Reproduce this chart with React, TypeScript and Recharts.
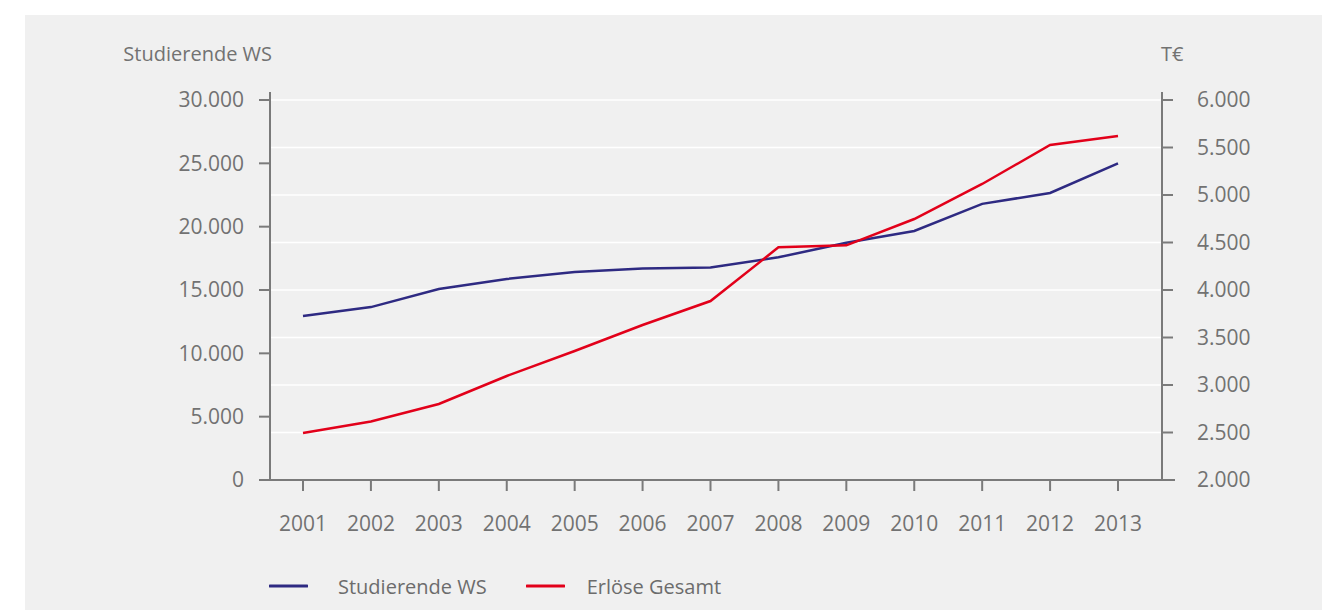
import React from 'react';
import * as R from 'recharts';
import { LineChart, Line, XAxis, YAxis, CartesianGrid, Legend } from 'recharts';

const years = ['2001', '2002', '2003', '2004', '2005', '2006', '2007', '2008', '2009', '2010', '2011', '2012', '2013'];
const studierende = [12950, 13650, 15080, 15870, 16420, 16700, 16780, 17580, 18730, 19660, 21800, 22660, 25000];
const erloese = [2495, 2615, 2800, 3095, 3358, 3632, 3884, 4449, 4470, 4747, 5116, 5526, 5621];
const leftTicks = [0, 5000, 10000, 15000, 20000, 25000, 30000];
const rightTicks = [2000, 2500, 3000, 3500, 4000, 4500, 5000, 5500, 6000];
const seriesNames = ['Studierende WS', 'Erlöse Gesamt'];
const leftTitle = 'Studierende WS';
const rightTitle = 'T€';

const data = years.map((y, i) => ({ year: y, studierende: studierende[i], erloese: erloese[i] }));

const FONT = '"Open Sans", sans-serif';
const TEXT = '#727272';
const AXIS = '#7a7a7a';
const BLUE = '#2e2a82';
const RED = '#e2001a';

const fmt = (v: number) => v.toLocaleString('de-DE');

const usePlotAreaHook: any = (R as any).usePlotArea;
const hasHook = typeof usePlotAreaHook === 'function';

function AxisLines() {
  const area = usePlotAreaHook();
  if (!area) return null;
  const { x, y, width, height } = area;
  return (
    <g>
      <line x1={x} y1={y - 8} x2={x} y2={y + height} stroke={AXIS} strokeWidth={2} />
      <line x1={x + width} y1={y - 8} x2={x + width} y2={y + height} stroke={AXIS} strokeWidth={2} />
      <line x1={x - 11} y1={y + height} x2={x + width + 13} y2={y + height} stroke={AXIS} strokeWidth={2} />
    </g>
  );
}

const legendItems = [
  { name: seriesNames[0], color: BLUE, gap: 30 },
  { name: seriesNames[1], color: RED, gap: 22 },
];

function LegendContent() {
  return (
    <div style={{ display: 'flex', alignItems: 'center', height: 30, fontFamily: FONT, fontSize: 20, color: '#6c6c6c' }}>
      {legendItems.map((it, i) => (
        <div key={it.name} style={{ display: 'flex', alignItems: 'center', marginRight: i === 0 ? 39 : 0 }}>
          <svg width={39} height={6} style={{ display: 'block' }}>
            <line x1={1} y1={3} x2={38} y2={3} stroke={it.color} strokeWidth={3} strokeLinecap="round" />
          </svg>
          <span style={{ marginLeft: it.gap, whiteSpace: 'nowrap' }}>{it.name}</span>
        </div>
      ))}
    </div>
  );
}

const LeftTitle = (props: any) => {
  const vb = props.viewBox;
  return (
    <text x={vb.x + vb.width + 2} y={vb.y - 39} textAnchor="end" fill={TEXT} fontFamily={FONT} fontSize={20}>
      {leftTitle}
    </text>
  );
};

const RightTitle = (props: any) => {
  const vb = props.viewBox;
  return (
    <text x={vb.x - 1} y={vb.y - 39} textAnchor="start" fill={TEXT} fontFamily={FONT} fontSize={20}>
      {rightTitle}
    </text>
  );
};

const tickStyle = { fill: TEXT, fontFamily: FONT, fontSize: 21 };
const tickLineStyle = { stroke: AXIS, strokeWidth: 2 };

export default function App() {
  return (
    <div style={{ position: 'absolute', left: 0, top: 0, width: 1322, height: 610, background: '#ffffff', overflow: 'hidden' }}>
      <div style={{ position: 'absolute', left: 25, top: 15, width: 1297, height: 595, background: '#f0f0f0' }}>
        <LineChart width={1297} height={595} data={data} margin={{ top: 85, right: 0, bottom: 0, left: 0 }}>
          <CartesianGrid horizontal vertical={false} yAxisId="right" stroke="#ffffff" strokeWidth={1.5} />
          <XAxis
            dataKey="year"
            height={130}
            padding={{ left: 33, right: 44 }}
            tick={tickStyle}
            tickSize={11}
            tickMargin={25}
            tickLine={tickLineStyle}
            axisLine={hasHook ? false : { stroke: AXIS, strokeWidth: 2 }}
            interval={0}
          />
          <YAxis
            yAxisId="left"
            orientation="left"
            width={245}
            domain={[0, 30000]}
            ticks={leftTicks}
            tickFormatter={fmt}
            tick={tickStyle}
            tickSize={11}
            tickMargin={15}
            tickLine={tickLineStyle}
            axisLine={hasHook ? false : { stroke: AXIS, strokeWidth: 2 }}
            allowDataOverflow
            label={<LeftTitle />}
          />
          <YAxis
            yAxisId="right"
            orientation="right"
            width={160}
            domain={[2000, 6000]}
            ticks={rightTicks}
            tickFormatter={fmt}
            tick={{ ...tickStyle, textAnchor: 'start' }}
            tickSize={11}
            tickMargin={24}
            tickLine={tickLineStyle}
            axisLine={hasHook ? false : { stroke: AXIS, strokeWidth: 2 }}
            allowDataOverflow
            label={<RightTitle />}
          />
          <Line yAxisId="left" type="linear" dataKey="studierende" name={seriesNames[0]} stroke={BLUE} strokeWidth={2.5} dot={false} activeDot={false} isAnimationActive={false} />
          <Line yAxisId="right" type="linear" dataKey="erloese" name={seriesNames[1]} stroke={RED} strokeWidth={2.5} dot={false} activeDot={false} isAnimationActive={false} />
          {hasHook ? <AxisLines /> : null}
          <Legend
            layout="horizontal"
            verticalAlign="middle"
            align="center"
            content={<LegendContent />}
            wrapperStyle={{ left: 244, top: 556, width: 'auto', height: 30 }}
          />
        </LineChart>
      </div>
    </div>
  );
}
